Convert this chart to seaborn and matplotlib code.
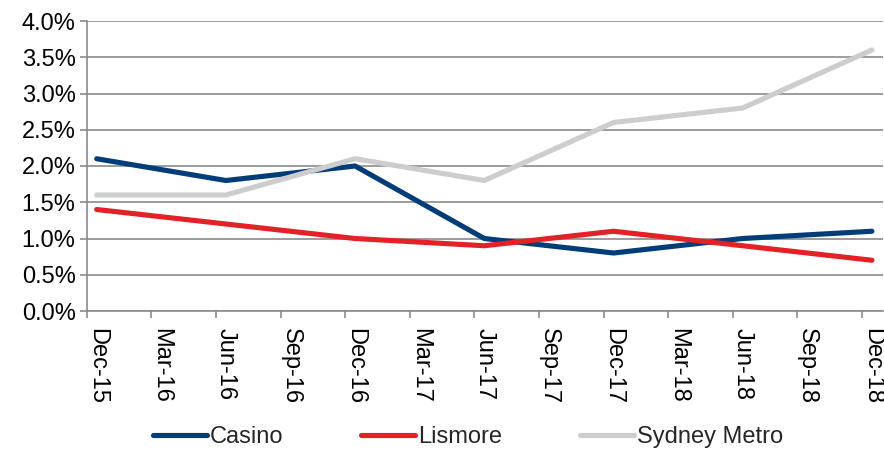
import numpy as np
import pandas as pd
import matplotlib
matplotlib.use("Agg")
import matplotlib.pyplot as plt
import seaborn as sns
from matplotlib.ticker import FixedLocator, FuncFormatter
from matplotlib.lines import Line2D

quarters = ["Dec-15", "Mar-16", "Jun-16", "Sep-16", "Dec-16", "Mar-17", "Jun-17",
            "Sep-17", "Dec-17", "Mar-18", "Jun-18", "Sep-18", "Dec-18"]
nan = np.nan
casino = [2.1, nan, 1.8, nan, 2.0, nan, 1.0, nan, 0.8, nan, 1.0, nan, 1.1]
lismore = [1.4, nan, 1.2, nan, 1.0, nan, 0.9, nan, 1.1, nan, 0.9, nan, 0.7]
sydney = [1.6, nan, 1.6, nan, 2.1, nan, 1.8, nan, 2.6, nan, 2.8, nan, 3.6]

series_names = ["Casino", "Lismore", "Sydney Metro"]
colors = {"Casino": "#023d7a", "Lismore": "#e32227", "Sydney Metro": "#cdcdcd"}

rows = []
for name, vals in zip(series_names, [casino, lismore, sydney]):
    for i, v in enumerate(vals):
        if not np.isnan(v):
            rows.append({"pos": i, "value": v, "series": name})
df = pd.DataFrame(rows)

sns.set_theme(style="white")
plt.rcParams['font.family'] = ['Liberation Sans', 'DejaVu Sans']

FS = 17
W, H = 884, 449
fig = plt.figure(figsize=(W / 100, H / 100), dpi=100)
ax = fig.add_axes([86.7 / W, 138 / H, (883 - 86.7) / W, (311.7 - 21.7) / H])

sns.lineplot(data=df, x="pos", y="value", hue="series", palette=colors,
             hue_order=series_names, linewidth=3.7, ax=ax, legend=False,
             solid_capstyle="round")

step = 64.6
off = 10.0 / step
ax.set_xlim(-off, (883 - 96.7) / step)
ax.set_ylim(0, 4.0)

ax.set_yticks(np.arange(0, 4.01, 0.5))
ax.yaxis.set_major_formatter(FuncFormatter(lambda v, p: f"{v:.1f}%"))
ax.grid(axis="y", color="#8a8a8a", linewidth=1.2)
ax.set_axisbelow(True)

ax.set_xticks(range(len(quarters)))
ax.set_xticklabels(quarters, rotation=-90, va="top", ha="center")
ax.xaxis.set_minor_locator(FixedLocator([k - off for k in range(len(quarters))]))
ax.tick_params(axis="x", which="major", length=0, pad=12, labelsize=FS, colors="black")
ax.tick_params(axis="x", which="minor", length=5, width=1.2, color="#8a8a8a", direction="out", bottom=True)
ax.tick_params(axis="y", which="major", length=5, width=1.2, color="#8a8a8a", direction="out",
               left=True, labelsize=FS, pad=3, labelcolor="black")

for s in ["top", "right"]:
    ax.spines[s].set_visible(False)
for s in ["left", "bottom"]:
    ax.spines[s].set_color("#8a8a8a")
    ax.spines[s].set_linewidth(1.2)
ax.set_xlabel("")
ax.set_ylabel("")

handles = [Line2D([0], [0], color=colors[n], linewidth=3.7, solid_capstyle="round") for n in series_names]
fig.legend(handles, series_names, loc="center", bbox_to_anchor=(468 / W, 1 - 437 / H),
           ncol=3, frameon=False, fontsize=FS, handlelength=2.3, handletextpad=0.12,
           columnspacing=3.3, borderaxespad=0, borderpad=0)

fig.savefig("out.png", dpi=100)
